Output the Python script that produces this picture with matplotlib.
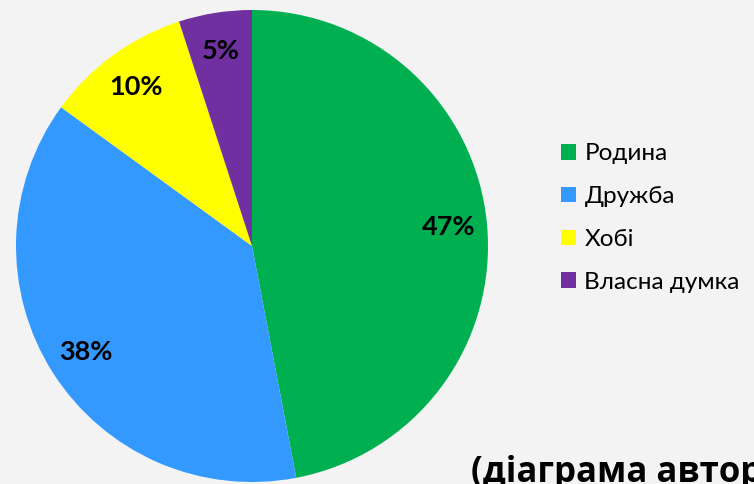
import matplotlib
matplotlib.use('Agg')
import matplotlib.pyplot as plt
from matplotlib.patches import Patch

# data
labels = ['Родина', 'Дружба', 'Хобі', 'Власна думка']
shares = [47, 38, 10, 5]
colors = ['#00B050', '#3399FF', '#FFFF00', '#7030A0']
bg = '#F3F3F3'

W, H = 754, 484
fig = plt.figure(figsize=(W / 100, H / 100), dpi=100, facecolor=bg)

# pie: centre ~ (252, 246) px, radius ~ 236 px
cx, cy, r = 252, 246, 236
ax = fig.add_axes([(cx - r) / W, (H - cy - r) / H, 2 * r / W, 2 * r / H])
ax.set_facecolor(bg)
wedges, texts, autotexts = ax.pie(shares, colors=colors, startangle=90, counterclock=False,
                                  autopct='%d%%', pctdistance=0.835, radius=1,
                                  wedgeprops=dict(linewidth=0))
for t in autotexts:
    t.set_fontsize(19.5)
    t.set_fontweight('bold')
    t.set_family('Lato')
    t.set_color('black')
ax.set_xlim(-1, 1)
ax.set_ylim(-1, 1)
ax.set_aspect('equal')
ax.axis('off')

handles = [Patch(facecolor=c, edgecolor='none') for c in colors]
fig.legend(handles, labels, loc='upper left', bbox_to_anchor=(554 / W, 1 - 136 / H),
           frameon=False, prop={'family': 'Lato', 'size': 17.5},
           handlelength=0.62, handleheight=0.62, handletextpad=0.33, labelspacing=0.9,
           borderaxespad=0, borderpad=0.3)

fig.text(471 / W, 1 - 482 / H, '(діаграма автора)', fontsize=25, fontweight='bold',
         family='Open Sans', ha='left', va='baseline', color='black')

fig.savefig('out.png', dpi=100, facecolor=bg)
